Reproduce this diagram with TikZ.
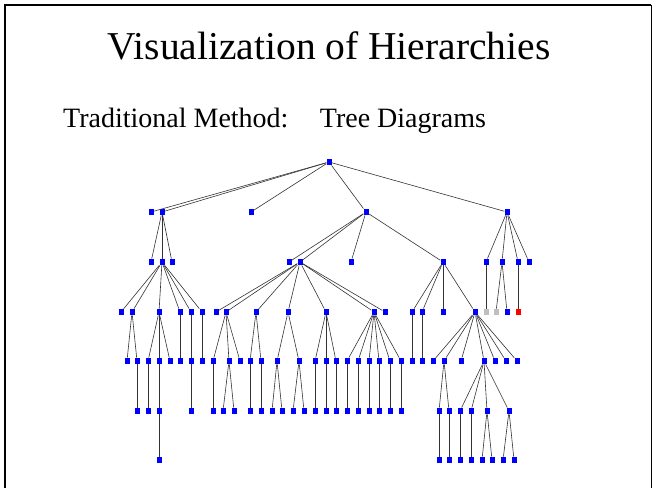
\documentclass[tikz,border=0pt]{standalone}
\usepackage{fontspec}
\setmainfont{Liberation Serif}
\begin{document}
\begin{tikzpicture}[x=1pt,y=-1pt,
	box/.style={fill=blue, inner sep=0pt, minimum width=5pt, minimum height=6.5pt},
	dimbox/.style={box, fill=gray!50},
	hotbox/.style={box, fill=red},
	branch/.style={draw=black!80, line width=0.6pt}]
	\newcommand\yR{162}
	\newcommand\yA{212}
	\newcommand\yB{262}
	\newcommand\yC{312}
	\newcommand\yD{361}
	\newcommand\yE{411}
	\newcommand\yF{460}
	\useasboundingbox (0,0) rectangle (652,488);
	% slide frame
	\draw[line width=2pt] (5,488) -- (5,5) -- (651,5);
	\draw[line width=1pt] (651,5) -- (651,488);
	% headings
	\node[anchor=base, inner sep=0pt, font=\fontsize{39.5}{44}\selectfont] (title) at (329,59)
		{Visualization of Hierarchies};
	\node[anchor=base west, inner sep=0pt, font=\fontsize{28}{32}\selectfont] (sub) at (63,127)
		{Traditional Method:\hspace{22pt} Tree Diagrams};
	% root and first level
	\node[box] (r) at (329,\yR) {};
	\foreach \n/\x in {a1/151, a2/162, a3/251, a4/366, a5/507}
		\node[box] (\n) at (\x,\yA) {};
	% second level
	\foreach \n/\x in {b1/151, b2/162, b3/172, b4/289, b5/300, b6/351, b7/443,
		b8/486, b9/502, b10/518, b11/529}
		\node[box] (\n) at (\x,\yB) {};
	% third level
	\foreach \n/\x in {c1/121, c2/132, c3/159, c4/180, c5/191, c6/202, c7/216,
		c8/226, c9/256, c10/288, c11/326, c12/374, c13/385, c14/412, c15/422,
		c16/443, c17/475, c20/507}
		\node[box] (\n) at (\x,\yC) {};
	\node[dimbox] (c18) at (486,\yC) {};
	\node[dimbox] (c19) at (496,\yC) {};
	\node[hotbox] (c21) at (518,\yC) {};
	% fourth level
	\foreach \n/\x in {d1/127, d2/137, d3/148, d4/159, d5/170, d6/180, d7/191,
		d8/202, d9/213, d10/229, d11/240, d12/250, d13/261, d14/277, d15/299,
		d16/315, d17/326, d18/336, d19/347, d20/358, d21/369, d22/379, d23/390,
		d24/401, d25/412, d26/422, d27/433, d28/444, d29/461, d30/484, d31/495,
		d32/506, d33/517}
		\node[box] (\n) at (\x,\yD) {};
	% fifth level
	\foreach \n/\x in {e1/137, e2/148, e3/159, e4/191, e5/213, e6/223, e7/234,
		e8/250, e9/261, e10/272, e11/282, e12/293, e13/304, e14/315, e15/326,
		e16/336, e17/347, e18/358, e19/369, e20/379, e21/390, e22/401, e23/439,
		e24/449, e25/460, e26/471, e27/487, e28/509}
		\node[box] (\n) at (\x,\yE) {};
	% sixth level
	\foreach \n/\x in {f1/159, f2/439, f3/449, f4/460, f5/471, f6/482, f7/492,
		f8/503, f9/514}
		\node[box] (\n) at (\x,\yF) {};
	% branches, parent/children
	\foreach \p/\kids in {r/{a1,a2,a3,a4,a5}, a2/{b1,b2,b3}, a4/{b4,b5,b6,b7},
		a5/{b8,b9,b10,b11},
		b2/{c1,c2,c3,c4,c5,c6}, b5/{c7,c8,c9,c10,c11,c12,c13},
		b7/{c14,c15,c16,c17}, b8/{c18}, b9/{c19,c20}, b10/{c21},
		c2/{d1,d2}, c3/{d3,d4,d5}, c4/{d6}, c5/{d7}, c6/{d8}, c8/{d9,d10,d11},
		c9/{d12,d13}, c10/{d14,d15}, c11/{d16,d17,d18},
		c12/{d19,d20,d21,d22,d23,d24}, c14/{d25}, c15/{d26},
		c17/{d27,d28,d29,d30,d31,d32,d33},
		d2/{e1}, d3/{e2}, d4/{e3}, d7/{e4}, d9/{e5}, d10/{e6,e7}, d12/{e8},
		d13/{e9}, d14/{e10,e11}, d15/{e12,e13}, d16/{e14}, d17/{e15},
		d18/{e16}, d19/{e17}, d20/{e18}, d21/{e19}, d22/{e20}, d23/{e21},
		d24/{e22}, d28/{e23,e24}, d30/{e25,e26,e27,e28},
		e3/{f1}, e23/{f2}, e24/{f3}, e25/{f4}, e26/{f5}, e27/{f6,f7},
		e28/{f8,f9}}
		\foreach \c in \kids
			\draw[branch] (\p) -- (\c);
\end{tikzpicture}
\end{document}
